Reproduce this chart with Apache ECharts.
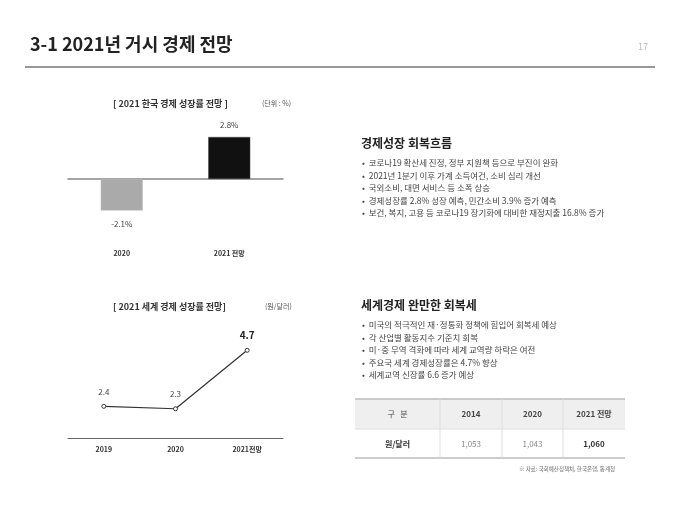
<!DOCTYPE html><html><head><meta charset="utf-8"><script src="https://cdn.jsdelivr.net/npm/echarts@6/dist/echarts.min.js"></script>
<style>body{margin:0}#c{width:680px;height:510px}</style></head><body><div id="c"></div><script>
const korCats=['2020','2021 전망'];
const korVals=[-2.1,2.8];
const worldCats=['2019','2020','2021전망'];
const worldVals=[2.4,2.3,4.7];
const tableHead=['구   분','2014','2020','2021 전망'];
const tableRow=['원/달러','1,053','1,043','1,060'];
const bullets1=['코로나19 확산세 진정, 정부 지원책 등으로 부진이 완화','2021년 1분기 이후 가계 소득여건, 소비 심리 개선','국외소비, 대면 서비스 등 소폭 상승','경제성장률 2.8% 성장 예측, 민간소비 3.9% 증가 예측','보건, 복지, 고용 등 코로나19 장기화에 대비한 재정지출 16.8% 증가'];
const bullets2=['미국의 적극적인 재·정통화 정책에 힘입어 회복세 예상','각 산업별 활동지수 기준치 회복','미·중 무역 격화에 따라 세계 교역량 하락은 여전','주요국 세계 경제성장률은 4.7% 향상','세계교역 신장률 6.6 증가 예상'];
const F='"Noto Sans CJK KR","Noto Sans",sans-serif';
const g=[];
const T=(x,y,t,o)=>g.push({type:'text',left:x,top:y,style:Object.assign({text:t,font:'11px '+F,fill:'#333'},o||{})});
T(30,35,'3-1 2021년 거시 경제 전망',{font:'bold 18px '+F,fill:'#222'});
T(638,42,'17',{font:'9px '+F,fill:'#bbb'});
g.push({type:'line',shape:{x1:25,y1:67,x2:655,y2:67},style:{stroke:'#333',lineWidth:1.2}});
T(113,99,'[ 2021 한국 경제 성장률 전망 ]',{font:'bold 9px '+F});
T(262,100,'(단위 : %)',{font:'7px '+F,fill:'#555'});
T(113,302,'[ 2021 세계 경제 성장률 전망]',{font:'bold 9px '+F});
T(265,303,'(원/달러)',{font:'7px '+F,fill:'#555'});
T(361,137,'경제성장 회복흐름',{font:'bold 12px '+F,fill:'#222'});
T(361,299,'세계경제 완만한 회복세',{font:'bold 12px '+F,fill:'#222'});
bullets1.forEach((b,i)=>T(362,159+i*12.5,'•  '+b,{font:'8.5px '+F,fill:'#444'}));
bullets2.forEach((b,i)=>T(362,321+i*12.5,'•  '+b,{font:'8.5px '+F,fill:'#444'}));
const cx=[355,440,502,563,625];
g.push({type:'rect',shape:{x:355,y:399,width:270,height:30},style:{fill:'#efefef'}});
g.push({type:'line',shape:{x1:355,y1:399,x2:625,y2:399},style:{stroke:'#bbb',lineWidth:1.5}});
g.push({type:'line',shape:{x1:355,y1:429,x2:625,y2:429},style:{stroke:'#ddd'}});
g.push({type:'line',shape:{x1:355,y1:458,x2:625,y2:458},style:{stroke:'#bbb',lineWidth:1.5}});
for(let i=1;i<4;i++)g.push({type:'line',shape:{x1:cx[i],y1:399,x2:cx[i],y2:458},style:{stroke:'#ddd'}});
for(let i=0;i<4;i++){
 g.push({type:'text',x:(cx[i]+cx[i+1])/2,y:414,style:{text:tableHead[i],font:(i?'bold ':'')+'8px '+F,fill:'#444',textAlign:'center',textVerticalAlign:'middle'}});
 g.push({type:'text',x:(cx[i]+cx[i+1])/2,y:444,style:{text:tableRow[i],font:(i==0||i==3?'bold ':'')+'8px '+F,fill:i==1||i==2?'#888':'#333',textAlign:'center',textVerticalAlign:'middle'}});
}
g.push({type:'text',x:615,y:466,style:{text:'※ 자료: 국회예산정책처, 한국은행, 통계청',font:'5.5px '+F,fill:'#666',textAlign:'right'}});
const c=echarts.init(document.getElementById('c'));
c.setOption({animation:false,graphic:g,
grid:[{left:68,width:215,top:126.5,height:97.5},{left:68,width:215,top:343,height:95}],
xAxis:[{gridIndex:0,type:'category',data:korCats,axisLine:{onZero:true,lineStyle:{color:'#888',width:1.5}},axisTick:{show:false},axisLabel:{interval:0,margin:26,fontSize:7,fontWeight:'bold',color:'#333',fontFamily:F}},
{gridIndex:1,type:'category',data:worldCats,axisLine:{lineStyle:{color:'#666'}},axisTick:{show:false},axisLabel:{interval:0,margin:8,fontSize:7,fontWeight:'bold',color:'#333',fontFamily:F}}],
yAxis:[{gridIndex:0,min:-3,max:3.5,show:false,splitLine:{show:false}},{gridIndex:1,min:1.1,max:5,show:false,splitLine:{show:false}}],
series:[{type:'bar',xAxisIndex:0,yAxisIndex:0,barWidth:42,data:korVals.map((v,i)=>({value:v,itemStyle:{color:i?'#111':'#aaa',borderColor:i?'#444':'#bbb',borderWidth:0.5},label:{show:true,position:i?'top':'bottom',distance:i?8:9,formatter:v+'%',fontSize:8,color:'#444',fontFamily:F}}))},
{type:'line',xAxisIndex:1,yAxisIndex:1,symbol:'circle',symbolSize:4,lineStyle:{color:'#333',width:1.2},itemStyle:{color:'#fff',borderColor:'#333',borderWidth:1},
label:{show:true,position:'top',distance:8,fontSize:8,color:'#444',fontFamily:F,formatter:p=>p.value},
data:worldVals.map((v,i)=>i==2?{value:v,label:{fontSize:10,fontWeight:'bold',color:'#222'}}:v)}]});
</script></body></html>
